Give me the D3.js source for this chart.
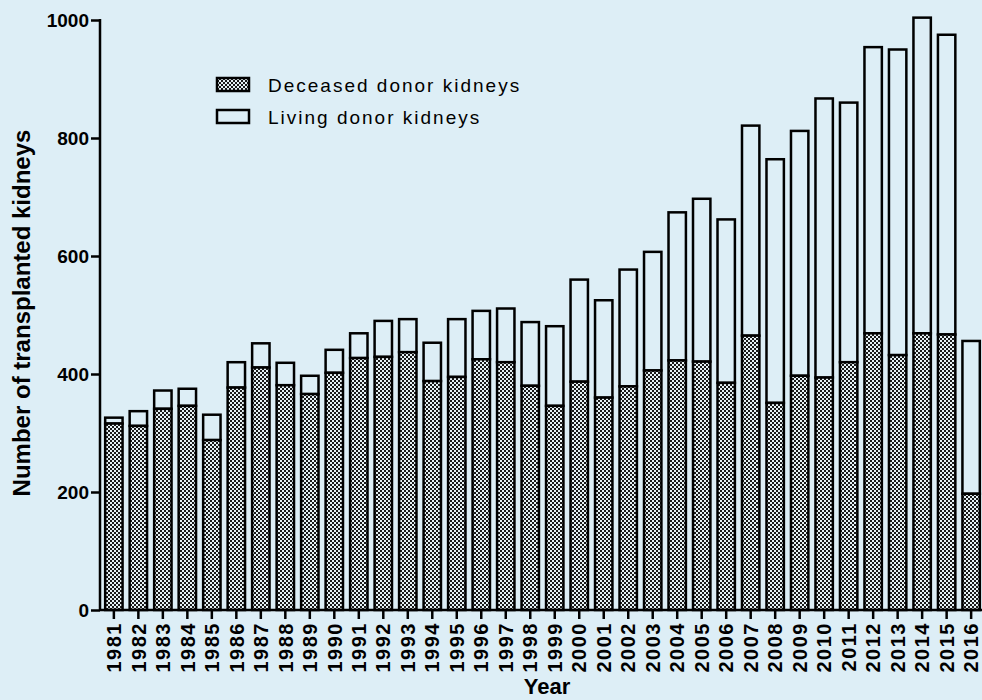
<!DOCTYPE html>
<html>
<head>
<meta charset="utf-8">
<script src="https://cdn.jsdelivr.net/npm/d3@7"></script>
<style>
  body { margin: 0; background: #ddeef6; }
  svg { display: block; font-family: "Liberation Sans", Arial, sans-serif; }
</style>
</head>
<body>
<svg id="chart" width="982" height="700"></svg>
<script>
var years = ["1981","1982","1983","1984","1985","1986","1987","1988","1989","1990",
  "1991","1992","1993","1994","1995","1996","1997","1998","1999","2000",
  "2001","2002","2003","2004","2005","2006","2007","2008","2009","2010",
  "2011","2012","2013","2014","2015","2016"];
var deceased = [316,312,341,346,288,377,411,381,366,402,
  427,429,437,388,395,425,420,380,346,387,
  360,379,406,423,421,385,465,351,397,394,
  420,469,432,469,467,197];
var totals = [326,337,372,375,331,420,452,419,397,441,
  469,490,493,453,493,507,511,488,481,560,
  525,577,607,674,697,662,821,764,812,867,
  860,954,950,1004,975,456];
var yTicks = [0,200,400,600,800,1000];
var seriesNames = ["Deceased donor kidneys","Living donor kidneys"];

var svg = d3.select("#chart");

var x = d3.scaleBand().domain(years).range([101.5, 983.5]).paddingInner(0.29).paddingOuter(0.15);
var y = d3.scaleLinear().domain([0, 1000]).range([610, 20]);

var defs = svg.append("defs");
var pat = defs.append("pattern")
  .attr("id", "dots")
  .attr("patternUnits", "userSpaceOnUse")
  .attr("width", 4).attr("height", 4);
pat.append("rect").attr("width", 4).attr("height", 4).attr("fill", "#1a1a1a");
pat.append("rect").attr("x", 0).attr("y", 0).attr("width", 2).attr("height", 2).attr("fill", "#e6f1f5");
pat.append("rect").attr("x", 2).attr("y", 2).attr("width", 2).attr("height", 2).attr("fill", "#e6f1f5");

var rows = years.map(function(d, i) {
  return {year: d, dec: deceased[i], tot: totals[i]};
});

var bars = svg.append("g");

// living part (top), outlined
bars.selectAll(".living")
  .data(rows)
  .enter().append("rect")
  .attr("class", "living")
  .attr("x", function(d) { return x(d.year); })
  .attr("width", x.bandwidth())
  .attr("y", function(d) { return y(d.tot); })
  .attr("height", function(d) { return y(d.dec) - y(d.tot); })
  .attr("fill", "#ddeef6")
  .attr("stroke", "#000")
  .attr("stroke-width", 2.5);

// deceased part (bottom), patterned
bars.selectAll(".deceased")
  .data(rows)
  .enter().append("rect")
  .attr("class", "deceased")
  .attr("x", function(d) { return x(d.year); })
  .attr("width", x.bandwidth())
  .attr("y", function(d) { return y(d.dec); })
  .attr("height", function(d) { return y(0) - y(d.dec); })
  .attr("fill", "url(#dots)")
  .attr("stroke", "#000")
  .attr("stroke-width", 2.5);

// y axis
var yAxis = svg.append("g")
  .attr("transform", "translate(100,0)")
  .call(d3.axisLeft(y).tickValues(yTicks).tickFormat(d3.format("d")).tickSize(9).tickPadding(2));
yAxis.select(".domain").attr("stroke-width", 2.5).attr("d", "M0,19V610");
yAxis.selectAll(".tick line").attr("stroke-width", 2.5);
yAxis.selectAll(".tick text")
  .attr("font-size", 19).attr("font-weight", "bold").attr("fill", "#000")
  .attr("font-family", "Liberation Sans, Arial, sans-serif");

// x axis
var xAxis = svg.append("g")
  .attr("transform", "translate(0,610)")
  .call(d3.axisBottom(x).tickSize(9).tickSizeOuter(0));
xAxis.select(".domain").attr("stroke-width", 2.5).attr("d", "M100,0H982");
xAxis.selectAll(".tick line").attr("stroke-width", 2.5);
xAxis.selectAll(".tick text")
  .attr("font-size", 20).attr("font-weight", "bold").attr("fill", "#000")
  .attr("font-family", "Liberation Sans, Arial, sans-serif")
  .attr("letter-spacing", 1.5)
  .attr("text-anchor", "end")
  .attr("transform", "rotate(-90)")
  .attr("x", -12).attr("y", 0).attr("dy", "0.36em");

// axis titles
svg.append("text")
  .attr("transform", "translate(30,313) rotate(-90)")
  .attr("text-anchor", "middle")
  .attr("font-size", 24).attr("font-weight", "bold")
  .text("Number of transplanted kidneys");

svg.append("text")
  .attr("x", 547).attr("y", 694)
  .attr("text-anchor", "middle")
  .attr("font-size", 22).attr("font-weight", "bold")
  .text("Year");

// legend
var legend = svg.append("g").attr("transform", "translate(217,78)");
seriesNames.forEach(function(name, i) {
  var g = legend.append("g").attr("transform", "translate(0," + (i * 32) + ")");
  g.append("rect")
    .attr("width", 32).attr("height", 13)
    .attr("fill", i == 0 ? "url(#dots)" : "#ddeef6")
    .attr("stroke", "#000").attr("stroke-width", 2.5);
  g.append("text")
    .attr("x", 51).attr("y", 14)
    .attr("font-size", 19)
    .attr("letter-spacing", 2)
    .text(name);
});
</script>
</body>
</html>
